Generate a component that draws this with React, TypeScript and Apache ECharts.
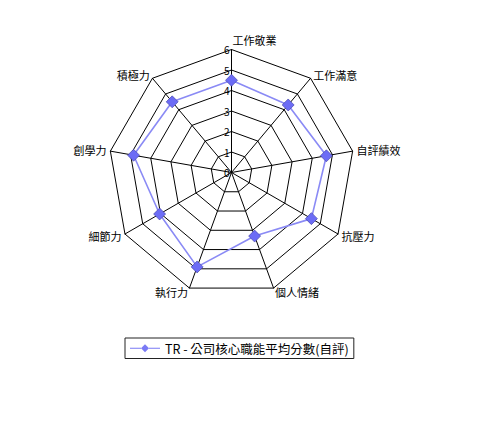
import React, { useEffect, useRef } from 'react'
import * as echarts from 'echarts'

// clockwise from the top, as in the reference
const indicators = ['工作敬業', '工作滿意', '自評績效', '抗壓力', '個人情緒', '執行力', '細節力', '創學力', '積極力']
const scores = [4.5, 4.3, 4.7, 4.5, 3.3, 4.9, 4.05, 4.85, 4.5]
const seriesName = 'TR - 公司核心職能平均分數(自評)'
const maxValue = 6
const tickLabels = ['0', '1', '2', '3', '4', '5', '6']

const FONT = '"Noto Sans CJK TC", "Noto Sans CJK SC", sans-serif'

// echarts radar runs counter-clockwise, so keep the first and flip the rest
const order = [0, ...indicators.map((_, i) => i).slice(1).reverse()]

const App: React.FC = () => {
    const chartRef = useRef<HTMLDivElement | null>(null)

    useEffect(() => {
        if (!chartRef.current) return
        const chart = echarts.init(chartRef.current, undefined, { renderer: 'svg' })

        const legendIcon =
            'path://M0,9.4 H11 V10.6 H0 Z M19,9.4 H30 V10.6 H19 Z M15,6 L19,10 L15,14 L11,10 Z'

        chart.setOption({
            animation: false,
            backgroundColor: '#ffffff',
            textStyle: { fontFamily: FONT },
            legend: {
                data: [{ name: seriesName, icon: legendIcon }],
                left: 125,
                top: 338,
                itemWidth: 30,
                itemHeight: 14,
                itemGap: 6,
                padding: [4, 5, 4, 5],
                borderColor: '#222',
                borderWidth: 1,
                borderRadius: 0,
                itemStyle: { color: '#7a7af5', borderWidth: 0 },
                textStyle: { fontSize: 12.5, color: '#000', fontFamily: FONT },
            },
            radar: {
                center: [231.5, 172.5],
                radius: 123,
                startAngle: 90,
                shape: 'polygon',
                splitNumber: 6,
                indicator: order.map((i) => ({ name: indicators[i], max: maxValue, min: 0 })),
                axisName: {
                    color: '#000',
                    fontSize: 11,
                    fontFamily: FONT,
                    formatter: (name: string) => (name === indicators[0] ? `{top|${name}}` : name),
                    rich: {
                        top: { fontSize: 11, color: '#000', fontFamily: FONT, padding: [0, 0, 0, 46] },
                    },
                },
                nameGap: 4,
                axisLine: { lineStyle: { color: '#000', width: 1 } },
                splitLine: { lineStyle: { color: '#000', width: 1 } },
                splitArea: { show: false },
            },
            polar: { center: [231.5, 172.5], radius: 123 },
            angleAxis: {
                show: false,
                startAngle: 90,
                min: 0,
                max: 360,
            },
            radiusAxis: {
                min: 0,
                max: maxValue,
                interval: 1,
                axisLine: { show: false },
                axisTick: { show: false },
                splitLine: { show: false },
                axisLabel: {
                    color: '#000',
                    fontSize: 10,
                    margin: 2,
                    fontFamily: FONT,
                    formatter: (v: number) => tickLabels[v] ?? '',
                },
            },
            series: [
                {
                    name: seriesName,
                    type: 'radar',
                    symbol: 'diamond',
                    symbolSize: 12,
                    lineStyle: { color: '#8a8af5', width: 1.6 },
                    itemStyle: { color: '#6c6cf5', borderColor: '#3a3aa0', borderWidth: 0.6 },
                    data: [{ value: order.map((i) => scores[i]), name: seriesName }],
                },
            ],
        })

        return () => {
            chart.dispose()
        }
    }, [])

    return (
        <div
            ref={chartRef}
            style={{ position: 'fixed', left: 0, top: 0, width: 477, height: 432 }}
        />
    )
}

export default App
